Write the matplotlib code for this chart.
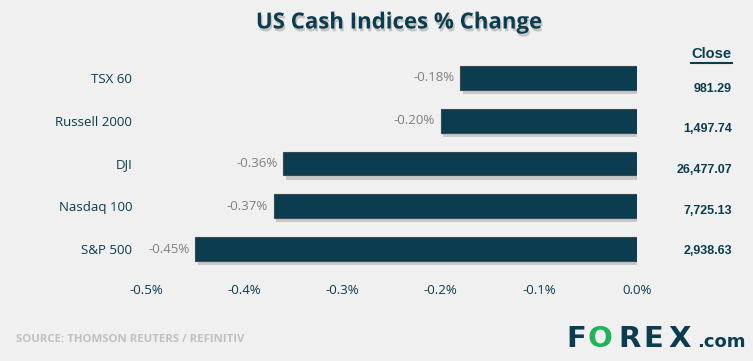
import matplotlib.pyplot as plt
import matplotlib.patheffects as pe
from matplotlib.ticker import FuncFormatter

# values
indices = ["TSX 60", "Russell 2000", "DJI", "Nasdaq 100", "S&P 500"]
pct_change = [-0.18, -0.20, -0.36, -0.37, -0.45]
close = ["981.29", "1,497.74", "26,477.07", "7,725.13", "2,938.63"]
xticks = [-0.5, -0.4, -0.3, -0.2, -0.1, 0.0]

bg = "#f0f0f0"
navy = "#0b3c4f"
W, H = 753, 361

fig = plt.figure(figsize=(W / 100, H / 100), dpi=100, facecolor=bg)
ax = fig.add_axes([146 / W, 1 - 270.5 / H, (637 - 146) / W, (270.5 - 56.5) / H])
ax.set_facecolor(bg)

ypos = list(range(len(indices)))
bars = ax.barh(ypos, pct_change, height=0.56, color=navy, edgecolor="#3a4a50", linewidth=0.8)
for b in bars:
    b.set_path_effects([pe.SimplePatchShadow(offset=(2, -3), shadow_rgbFace="#a0a0a0", alpha=0.5), pe.Normal()])

ax.set_xlim(-0.5, 0.0)
ax.set_ylim(len(indices) - 0.5, -0.5)
ax.set_xticks(xticks)
ax.xaxis.set_major_formatter(FuncFormatter(lambda v, p: f"{v:.1f}%" if abs(v) > 1e-9 else "0.0%"))
ax.set_yticks(ypos)
ax.set_yticklabels(indices)
ax.tick_params(length=0, labelsize=9.5, labelcolor=navy)
ax.tick_params(axis="x", pad=10)
ax.tick_params(axis="y", pad=10)
for lbl in ax.get_yticklabels() + ax.get_xticklabels():
    lbl.set_fontfamily("Open Sans")
for s in ax.spines.values():
    s.set_visible(False)

for y, v in zip(ypos, pct_change):
    ax.annotate(f"{v:.2f}%", (v, y), xytext=(-4, 0), textcoords="offset points",
                ha="right", va="center", fontsize=9.5, color="#7f7f7f", family="Open Sans")

# close column
fig.text(732 / W, 1 - 54 / H, "Close", ha="right", va="center", fontsize=10.5, fontweight="bold",
         color=navy, family="Liberation Sans")
fig.add_artist(plt.Line2D([691 / W, 732 / W], [1 - 63 / H, 1 - 63 / H], color=navy, lw=1.5))
for i, c in enumerate(close):
    fig.text(732 / W, 1 - (89 + 40.5 * i) / H, c, ha="right", va="center", fontsize=9,
             fontweight="bold", color=navy, family="Liberation Sans")

fig.text(399 / W, 1 - 23 / H, "US Cash Indices % Change", ha="center", va="center",
         fontsize=16, fontweight="bold", color=navy, family="Open Sans",
         path_effects=[pe.withSimplePatchShadow(offset=(1, -2), shadow_rgbFace="#999999", alpha=0.5)])

fig.text(16 / W, 1 - 340 / H, "SOURCE: THOMSON REUTERS / REFINITIV", ha="left", va="center",
         fontsize=8.2, fontweight="bold", color="#c0c0c0", family="Open Sans")

# logo
logo_base = 1 - 347 / H
for ch, cx, col in [("F", 576, navy), ("O", 600, "#1fb35a"), ("R", 630, navy), ("E", 653, navy), ("X", 680, navy)]:
    fig.text(cx / W, logo_base, ch, ha="center", va="baseline", fontsize=21, fontweight="bold",
             color=col, family="DejaVu Sans")
fig.text(697 / W, logo_base, ".com", ha="left", va="baseline", fontsize=13, fontweight="bold",
         color=navy, family="DejaVu Sans")

fig.savefig("out.png", dpi=100, facecolor=bg)
